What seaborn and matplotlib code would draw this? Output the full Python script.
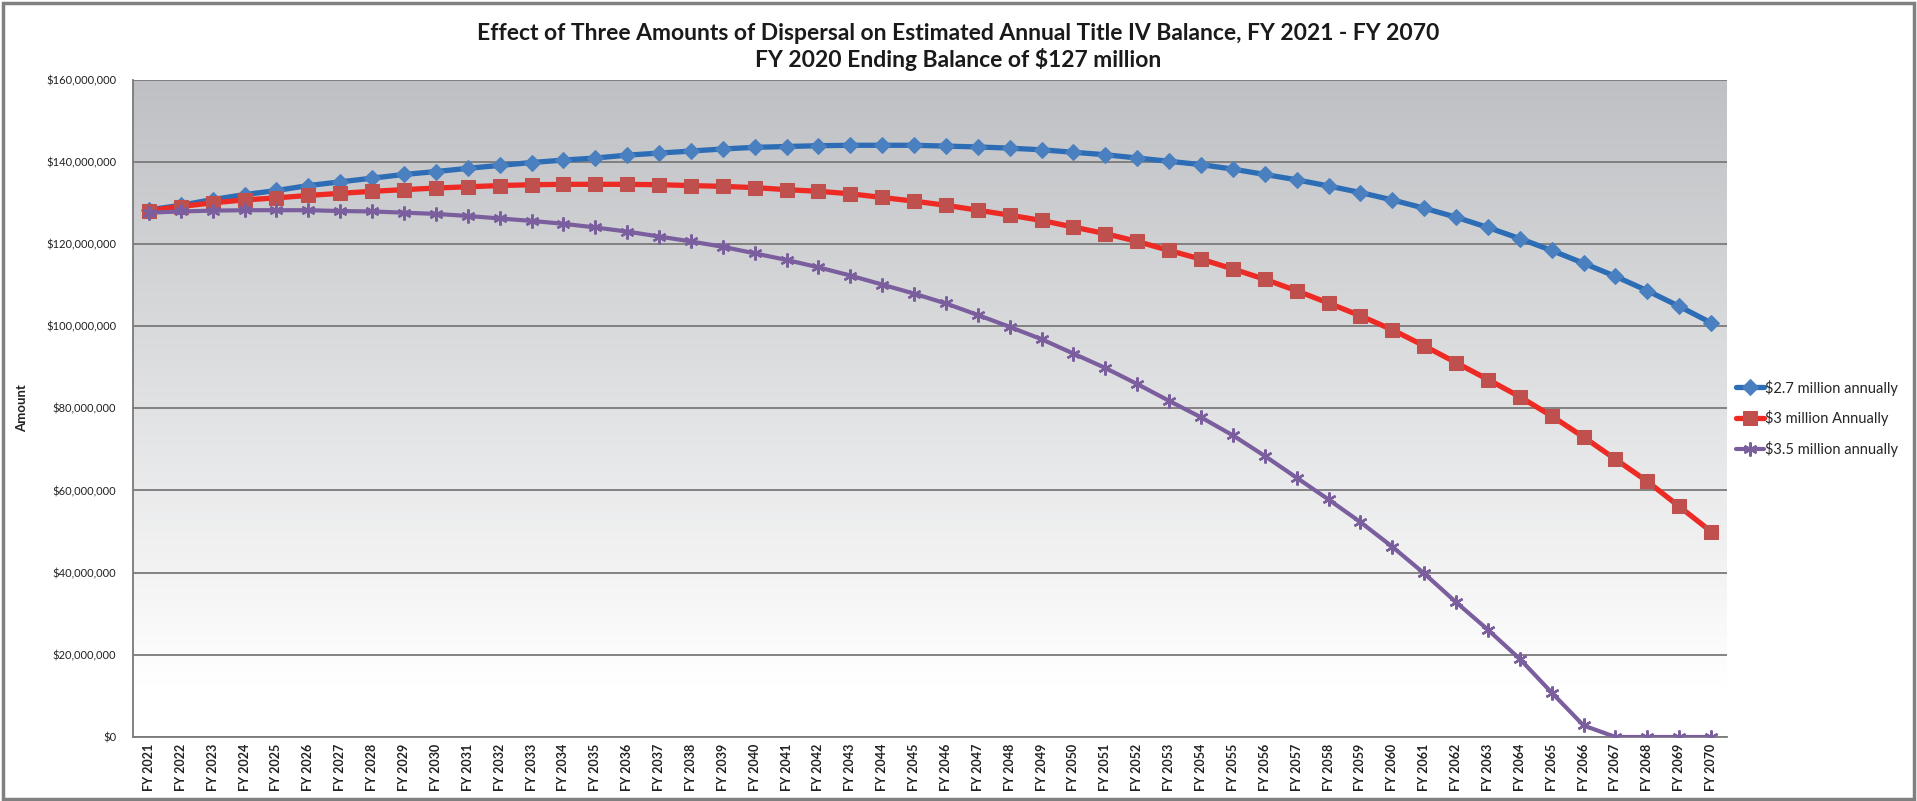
import numpy as np
import pandas as pd
import matplotlib
matplotlib.use("Agg")
import matplotlib.pyplot as plt
from matplotlib.ticker import FuncFormatter
from matplotlib.patches import Rectangle
import seaborn as sns

# Fiscal years on the category axis
years = [f"FY {y}" for y in range(2021, 2071)]

# Estimated year-end balance (millions of dollars) for each dispersal amount
balance_2_7m = [
    128.3, 129.4, 130.8, 132.0, 133.0, 134.2, 135.1, 136.0, 136.9, 137.6,
    138.4, 139.1, 139.8, 140.4, 140.9, 141.6, 142.1, 142.6, 143.1, 143.5,
    143.7, 143.9, 144.0, 144.0, 144.0, 143.8, 143.6, 143.3, 142.9, 142.3,
    141.7, 140.9, 140.1, 139.3, 138.2, 136.9, 135.6, 134.1, 132.5, 130.7,
    128.7, 126.5, 124.0, 121.3, 118.4, 115.3, 112.1, 108.6, 104.8, 100.8,
]
balance_3m = [
    128.1, 129.1, 130.0, 130.7, 131.2, 131.8, 132.3, 132.8, 133.2, 133.6,
    133.9, 134.2, 134.4, 134.5, 134.5, 134.5, 134.4, 134.2, 134.0, 133.7,
    133.2, 132.8, 132.2, 131.3, 130.4, 129.4, 128.2, 127.0, 125.7, 124.1,
    122.5, 120.6, 118.4, 116.3, 113.9, 111.4, 108.6, 105.6, 102.5, 99.1,
    95.2, 91.1, 87.0, 82.8, 78.1, 73.0, 67.6, 62.2, 56.1, 50.0,
]
balance_3_5m = [
    127.6, 127.9, 128.1, 128.2, 128.2, 128.2, 128.0, 127.9, 127.6, 127.3,
    126.8, 126.2, 125.6, 124.9, 124.0, 123.0, 121.8, 120.6, 119.3, 117.7,
    116.1, 114.3, 112.3, 110.1, 107.9, 105.5, 102.7, 99.8, 96.8, 93.3,
    89.8, 85.9, 81.8, 77.8, 73.4, 68.4, 63.1, 57.8, 52.3, 46.3,
    39.8, 32.8, 26.1, 19.0, 10.8, 2.8, 0.0, 0.0, 0.0, 0.0,
]
series_names = ["$2.7 million annually", "$3 million Annually", "$3.5 million annually"]

sns.set_theme(style="white")
plt.rcParams["font.family"] = ["Lato", "DejaVu Sans"]

fig = plt.figure(figsize=(19.17, 8.01), dpi=100)
ax = fig.add_axes([0.0694, 0.0799, 0.8315, 0.8208])

idx = np.arange(len(years))
n = len(years)

# Gray-to-white vertical gradient behind the plot area
t = np.linspace(0, 1, 400)[:, None]
shade = np.clip((t - 0.08) / 0.92, 0, 1)
top_col = np.array([0.745, 0.752, 0.765])
grad = 1 - shade[..., None] * (1 - top_col)
grad = np.repeat(grad, 2, axis=1)
ax.imshow(grad, extent=[-0.5, n - 0.5, 0, 160e6], origin="lower",
          aspect="auto", zorder=0, interpolation="bilinear")

df = pd.DataFrame({
    "idx": np.concatenate([idx, idx, idx]),
    "balance": np.concatenate([balance_2_7m, balance_3m, balance_3_5m]) * 1e6,
    "series": np.repeat(series_names, n),
})

styles = {
    series_names[0]: dict(color="#2C6DB6", marker="D", markersize=8,
                          markerfacecolor="#4A7FC0", markeredgecolor="#4A7FC0", linewidth=3.8),
    series_names[1]: dict(color="#EE2A24", marker="s", markersize=10.5,
                          markerfacecolor="#C0504D", markeredgecolor="#C0504D", linewidth=3.8),
    series_names[2]: dict(color="#7A5E9E", marker=(6, 2, 0), markersize=10,
                          markerfacecolor="#7A5E9E", markeredgecolor="#7A5E9E",
                          markeredgewidth=1.7, linewidth=3.0),
}
for name in series_names:
    sub = df[df["series"] == name]
    sns.lineplot(data=sub, x="idx", y="balance", ax=ax, label=name,
                 sort=False, zorder=3, **styles[name])

ax.set_xlim(-0.5, n - 0.5)
ax.set_ylim(0, 160e6)
ax.set_yticks(np.arange(0, 160e6 + 1, 20e6))
ax.yaxis.set_major_formatter(FuncFormatter(lambda v, p: f"${v:,.0f}"))
ax.set_xticks(idx)
ax.set_xticklabels(years, rotation=90, fontsize=9, fontweight="bold", color="#222222")
ax.tick_params(axis="y", labelsize=8, colors="#222222", length=0, pad=12)
ax.tick_params(axis="x", length=0, pad=5)

ax.grid(axis="y", color="#7a7a7a", linewidth=1.3, zorder=1)
ax.set_axisbelow(False)
for sp in ["top", "right"]:
    ax.spines[sp].set_visible(False)
for sp in ["left", "bottom"]:
    ax.spines[sp].set_color("#7a7a7a")
    ax.spines[sp].set_linewidth(1.3)

ax.set_xlabel("")
ax.set_ylabel("Amount", fontsize=9.5, fontweight="bold", color="#222222")
ax.yaxis.set_label_coords(-0.066, 0.5)

ax.legend(loc="center left", bbox_to_anchor=(1.002, 0.485), frameon=False,
          fontsize=10.5, handlelength=1.9, handletextpad=0.1, labelspacing=1.0,
          borderaxespad=0.0)

fig.text(0.5, 0.958, "Effect of Three Amounts of Dispersal on Estimated Annual Title IV Balance, FY 2021 - FY 2070",
         ha="center", va="center", fontsize=16.5, fontweight="bold", color="#1a1a1a")
fig.text(0.5, 0.926, "FY 2020 Ending Balance of $127 million",
         ha="center", va="center", fontsize=16.5, fontweight="bold", color="#1a1a1a")

fig.add_artist(Rectangle((0.0015, 0.003), 0.997, 0.993, transform=fig.transFigure,
                         fill=False, edgecolor="#808080", linewidth=2.5))

fig.savefig("out.png", dpi=100, facecolor="white")
